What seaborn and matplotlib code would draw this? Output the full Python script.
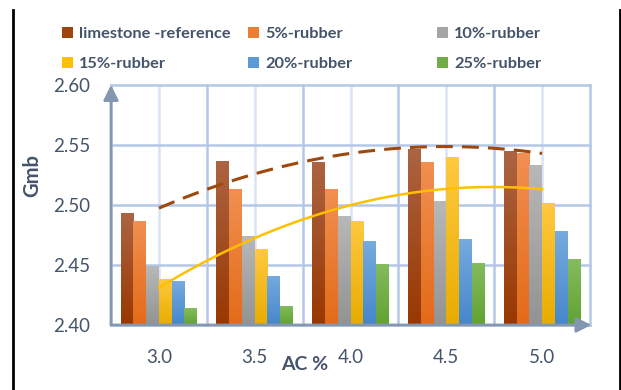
import numpy as np
import pandas as pd
import matplotlib
matplotlib.use("Agg")
import matplotlib.pyplot as plt
import seaborn as sns
from matplotlib.colors import LinearSegmentedColormap
from matplotlib.lines import Line2D
from matplotlib.patches import Patch

# ---- data -------------------------------------------------------------
ac_levels = ["3.0", "3.5", "4.0", "4.5", "5.0"]
mixes = ["limestone -reference", "5%-rubber", "10%-rubber",
         "15%-rubber", "20%-rubber", "25%-rubber"]
limestone_ref = [2.493, 2.537, 2.536, 2.547, 2.545]
rubber_5 = [2.487, 2.513, 2.513, 2.536, 2.543]
rubber_10 = [2.449, 2.474, 2.491, 2.503, 2.533]
rubber_15 = [2.438, 2.463, 2.487, 2.540, 2.502]
rubber_20 = [2.437, 2.441, 2.470, 2.472, 2.478]
rubber_25 = [2.414, 2.416, 2.451, 2.452, 2.455]
series = [limestone_ref, rubber_5, rubber_10, rubber_15, rubber_20, rubber_25]

# (top, bottom) gradient colours for each mix
bar_colors = [("#AC6442", "#983800"), ("#F28F52", "#E46A18"),
              ("#B8B8B8", "#939393"), ("#FFC940", "#E8AC00"),
              ("#76ABDE", "#4587CB"), ("#84BC5E", "#62A232")]
solid_colors = ["#A0440E", "#ED7D31", "#A5A5A5", "#FFC000", "#5B9BD5", "#70AD47"]

df = pd.DataFrame({
    "AC": ac_levels * len(mixes),
    "mix": np.repeat(mixes, len(ac_levels)),
    "Gmb": np.concatenate(series),
})

text_col = "#44546A"
grid_major = "#B4C7E7"
grid_minor = "#DAE3F3"
axis_col = "#8497B0"

plt.rcParams["font.family"] = ["Lato", "DejaVu Sans"]

fig = plt.figure(figsize=(6.21, 3.90), dpi=100)
ax = fig.add_axes([111 / 621, 1 - 325 / 390, (590 - 111) / 621, (325 - 85) / 390])

sns.barplot(data=df, x="AC", y="Gmb", hue="mix", hue_order=mixes, order=ac_levels,
            palette=solid_colors, width=0.8, gap=0, ax=ax, legend=False,
            saturation=1, errorbar=None, zorder=3)

# gradient fill on each bar
for k, cont in enumerate(ax.containers):
    top, bot = bar_colors[k]
    cmap = LinearSegmentedColormap.from_list(f"g{k}", [bot, top])
    for p in cont.patches:
        p.set_edgecolor("none")
        p.set_facecolor(bot)
        x0, w, h = p.get_x(), p.get_width(), p.get_height()
        y1 = p.get_y() + h
        grad = np.linspace(0, 1, 100).reshape(-1, 1)
        im = ax.imshow(grad, cmap=cmap, origin="lower", aspect="auto",
                       extent=(x0, x0 + w, 2.40, y1), zorder=3.5,
                       interpolation="bicubic")
        im.set_clip_path(p)
ax.set_xlim(-0.5, 4.5)
ax.set_ylim(2.40, 2.60)

# grid
for yv in [2.40, 2.45, 2.50, 2.55, 2.60]:
    ax.axhline(yv, color=grid_major, lw=1.8, zorder=1, clip_on=False)
for xv in np.arange(-0.5, 5.0, 1.0):
    ax.axvline(xv, color=grid_major, lw=1.8, zorder=1, clip_on=False)
for xv in range(5):
    ax.axvline(xv, color=grid_minor, lw=1.8, zorder=0.9)

# quadratic trend lines
xpos = np.arange(len(ac_levels))
xs = np.linspace(0, 4, 200)
c_lime = np.polyfit(xpos, limestone_ref, 2)
ax.plot(xs, np.polyval(c_lime, xs), color="#9E480E", lw=2.2,
        dashes=(5.5, 3), zorder=5)
c_15 = np.polyfit(xpos, rubber_15, 2)
ax.plot(xs, np.polyval(c_15, xs), color="#FFC000", lw=1.8, zorder=5)

# axes with arrow heads
for s in ax.spines.values():
    s.set_visible(False)
ax.annotate("", xy=(0, 1.0), xytext=(0, 0), xycoords="axes fraction",
            arrowprops=dict(arrowstyle="-|>,head_length=0.9,head_width=0.45",
                            color=axis_col, lw=2, shrinkA=0, shrinkB=0), zorder=6)
ax.annotate("", xy=(1.003, 0), xytext=(0, 0), xycoords="axes fraction",
            arrowprops=dict(arrowstyle="-|>,head_length=0.9,head_width=0.45",
                            color=axis_col, lw=2, shrinkA=0, shrinkB=0), zorder=6)

ax.set_yticks([2.40, 2.45, 2.50, 2.55, 2.60])
ax.set_yticklabels(["2.40", "2.45", "2.50", "2.55", "2.60"])
ax.tick_params(axis="y", length=0, pad=15, labelsize=13.5, labelcolor=text_col)
ax.tick_params(axis="x", length=0, pad=17, labelsize=13.5, labelcolor=text_col)
ax.set_xlabel("")
ax.set_ylabel("")

fig.text(305 / 621, 1 - 364 / 390, "AC %", ha="center", va="center",
         fontsize=14, fontweight="bold", color=text_col)
fig.text(32 / 621, 1 - 176 / 390, "Gmb", ha="center", va="center", rotation=90,
         fontsize=14.5, fontweight="bold", color=text_col)

# legend, three columns placed independently
col_x = [62 / 621, 248 / 621, 437 / 621]
for c in range(3):
    idx = [c, c + 3]
    handles = [Patch(facecolor=solid_colors[i], edgecolor="none") for i in idx]
    fig.legend(handles, [mixes[i] for i in idx], loc="upper left",
               bbox_to_anchor=(col_x[c], 1 - 27 / 390), frameon=False,
               prop={"weight": "bold", "size": 11.8}, labelcolor=text_col,
               handlelength=0.65, handleheight=0.65, handletextpad=0.4,
               labelspacing=0.95, borderaxespad=0, borderpad=0)

# side rules
fig.add_artist(Line2D([12.5 / 621, 12.5 / 621], [0, 1 - 10 / 390], color="black", lw=2))
fig.add_artist(Line2D([619.5 / 621, 619.5 / 621], [0, 1 - 10 / 390], color="black", lw=2))

fig.savefig("out.png", dpi=100)
